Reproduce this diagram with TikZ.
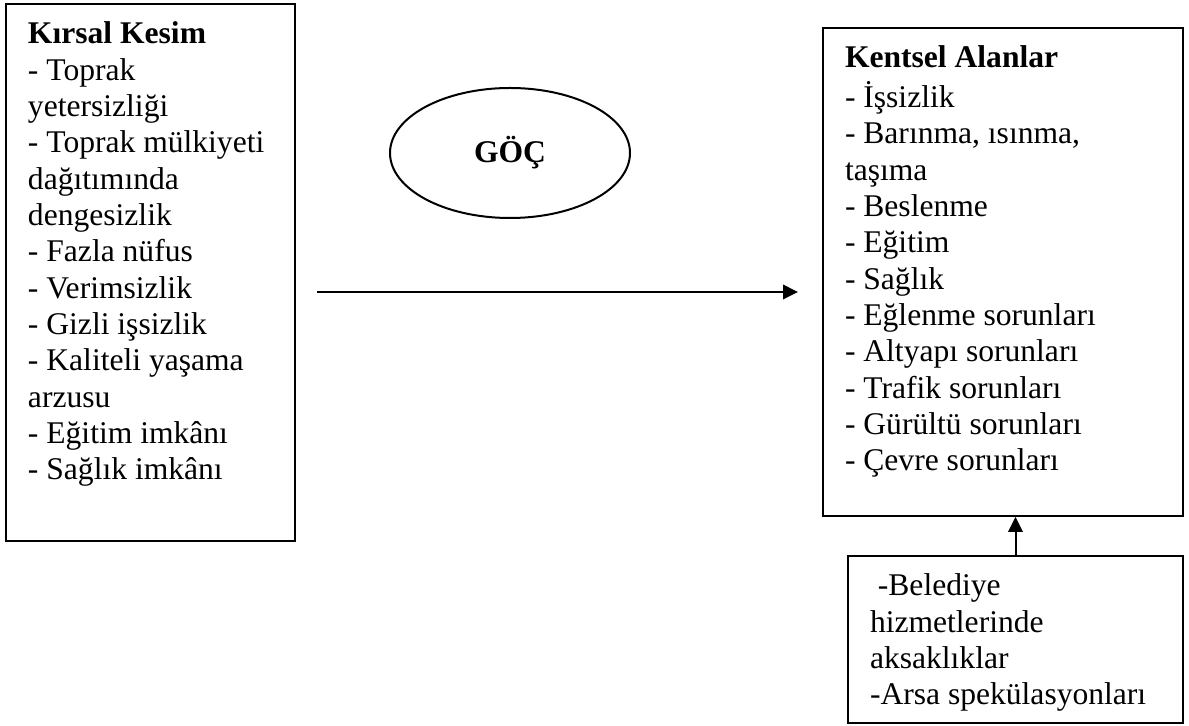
\documentclass[tikz,border=0pt]{standalone}
\usepackage{fontspec}
\setmainfont{Liberation Serif}
\usetikzlibrary{shapes.geometric,arrows.meta}

% text block pinned to the top of its box
\newcommand{\boxtext}[3]{\parbox[t][#2][t]{#1}{\raggedright\strut #3}}

\begin{document}
\begin{tikzpicture}[x=0.38pt, y=-0.38pt,
    font=\fontsize{12}{13.8}\selectfont,
    listbox/.style={draw, line width=0.76pt, anchor=north west, inner xsep=8.36pt, inner ysep=5.54pt},
    migration/.style={draw, ellipse, line width=0.76pt, minimum width=91.2pt, minimum height=49.4pt, inner sep=0pt, font=\fontsize{12}{13.8}\selectfont\bfseries},
    flow/.style={line width=0.76pt, -{Triangle[length=5.7pt, width=5.5pt]}}]
    \useasboundingbox (0,0) rectangle (1189,726);

    % Rural side
    \node[listbox] (rural) at (5,3) {\boxtext{93.1pt}{193pt}{%
        \textbf{Kırsal Kesim}\\
        - Toprak\\
        yetersizliği\\
        - Toprak mülkiyeti\\
        dağıtımında\\
        dengesizlik\\
        - Fazla nüfus\\
        - Verimsizlik\\
        - Gizli işsizlik\\
        - Kaliteli yaşama\\
        arzusu\\
        - Eğitim imkânı\\
        - Sağlık imkânı}};

    % Migration
    \node[migration] (goc) at (510,153) {GÖÇ};

    % Urban side
    \node[listbox] (urban) at (822,27) {\boxtext{120.1pt}{174.3pt}{%
        \textbf{Kentsel Alanlar}\\
        - İşsizlik\\
        - Barınma, ısınma,\\
        taşıma\\
        - Beslenme\\
        - Eğitim\\
        - Sağlık\\
        - Eğlenme sorunları\\
        - Altyapı sorunları\\
        - Trafik sorunları\\
        - Gürültü sorunları\\
        - Çevre sorunları}};

    \node[listbox] (municipal) at (847,555) {\boxtext{110.6pt}{52.4pt}{%
        \hspace*{0.25em}-Belediye\\
        hizmetlerinde\\
        aksaklıklar\\
        -Arsa spekülasyonları}};

    % Arrows
    \coordinate (flowstart) at (317,292);
    \coordinate (flowend) at (798,292);
    \draw[flow] (flowstart) -- (flowend);
    \draw[flow] (municipal.north) -- (municipal.north |- urban.south);
\end{tikzpicture}
\end{document}
